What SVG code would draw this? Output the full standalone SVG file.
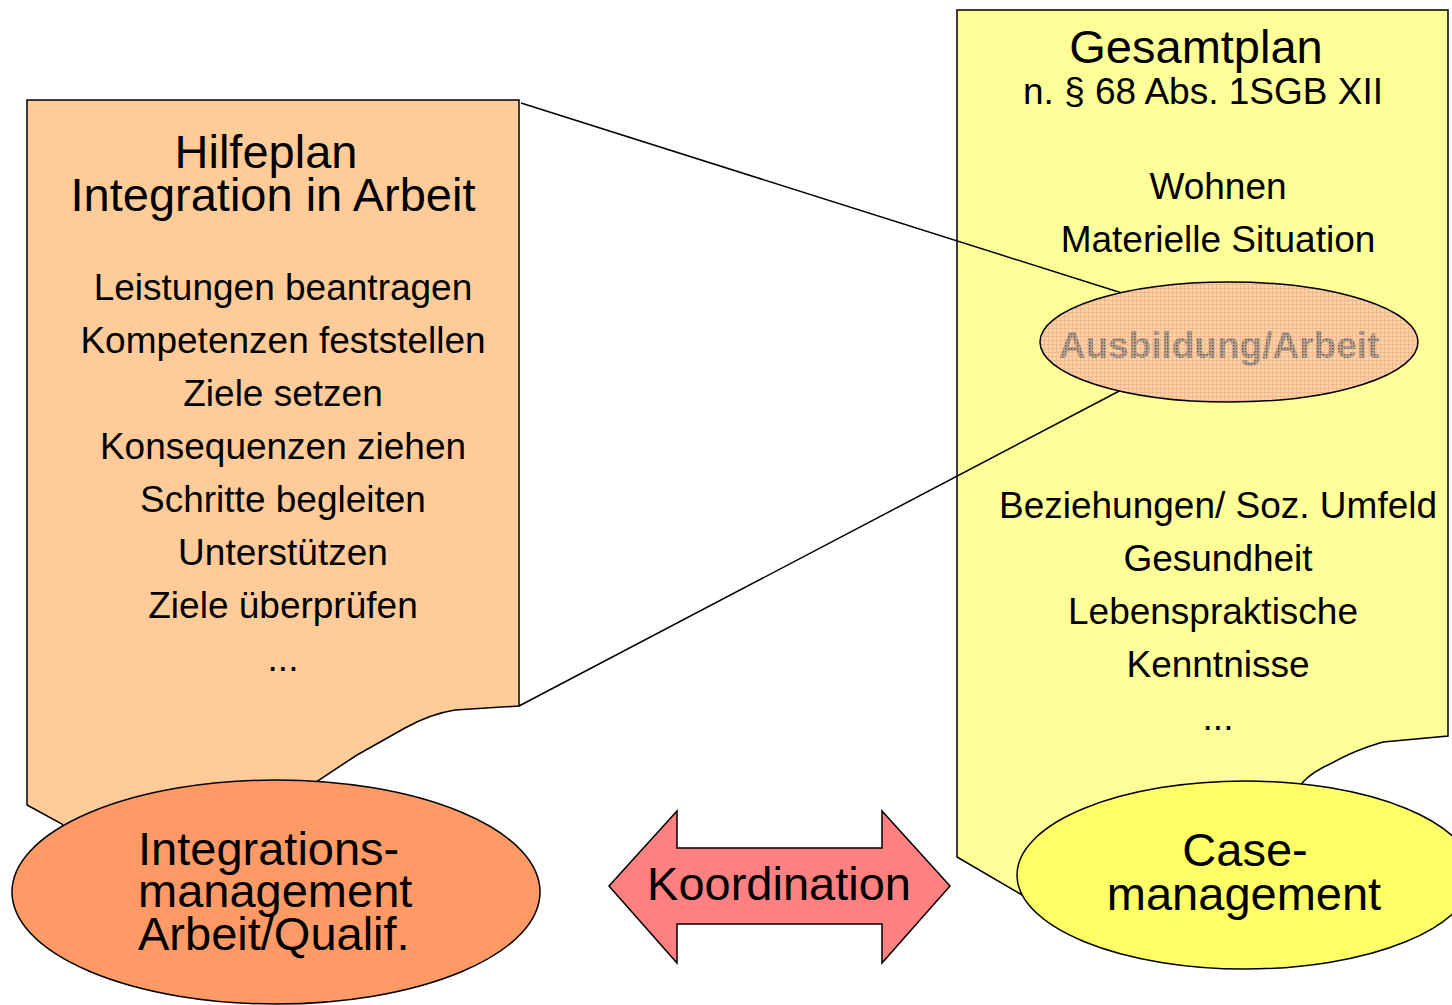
<svg xmlns="http://www.w3.org/2000/svg" width="1452" height="1005" viewBox="0 0 1452 1005">
<style>
text{font-family:"Liberation Sans",Arial,sans-serif;fill:#000;text-anchor:middle}
.shape{stroke:#000;stroke-width:1.5}
.t47{font-size:47px}
.t37{font-size:37px}
.con{stroke:#000;stroke-width:1.5;fill:none}
</style>
<defs>
<pattern id="grid" width="4" height="4" patternUnits="userSpaceOnUse">
<rect width="4" height="4" fill="#FCD49E"/>
<path d="M0,0.5H4M0.5,0V4" stroke="#F2B596" stroke-width="1"/>
</pattern>
<pattern id="dots" width="3" height="3" patternUnits="userSpaceOnUse">
<rect width="3" height="3" fill="#B8A08C"/>
<rect width="1.5" height="1.5" fill="#6E5E54"/>
</pattern>
</defs>
<g id="hilfeplan">
<path class="shape" fill="#FFCC99" d="M27,100 L519,100 L519,706 L455,710 Q430,714 405,728 L357,755 L316,782 L276,850 L80,850 L62,824 L27,805 Z"/>
<text class="t47" x="266" y="168">Hilfeplan</text>
<text class="t47" x="273" y="211">Integration in Arbeit</text>
<text class="t37" x="283" y="300">Leistungen beantragen</text>
<text class="t37" x="283" y="353">Kompetenzen feststellen</text>
<text class="t37" x="283" y="406">Ziele setzen</text>
<text class="t37" x="283" y="459">Konsequenzen ziehen</text>
<text class="t37" x="283" y="512">Schritte begleiten</text>
<text class="t37" x="283" y="565">Unterstützen</text>
<text class="t37" x="283" y="618">Ziele überprüfen</text>
<text class="t37" x="283" y="671">...</text>
</g>
<g id="gesamtplan">
<path class="shape" fill="#FFFF99" d="M957,10 L1448,10 L1448,736 L1383,742 Q1355,750 1332,763 Q1312,772 1303,782 L1290,800 L1040,900 L1022,895 L957,857 Z"/>
<text class="t47" x="1196" y="63">Gesamtplan</text>
<text class="t37" x="1203" y="104">n. § 68 Abs. 1SGB XII</text>
<text class="t37" x="1218" y="199">Wohnen</text>
<text class="t37" x="1218" y="252">Materielle Situation</text>
<text class="t37" x="1218" y="518">Beziehungen/ Soz. Umfeld</text>
<text class="t37" x="1218" y="571">Gesundheit</text>
<text class="t37" x="1213" y="624">Lebenspraktische</text>
<text class="t37" x="1218" y="677">Kenntnisse</text>
<text class="t37" x="1218" y="730">...</text>
</g>
<g id="connectors">
<line class="con" x1="521" y1="103" x2="1125" y2="294"/>
<line class="con" x1="519" y1="706" x2="1125" y2="388"/>
</g>
<g id="ausbildung">
<ellipse class="shape" fill="url(#grid)" cx="1229" cy="342" rx="189" ry="60"/>
<text x="1219" y="358" style="font-size:37px;font-weight:bold;fill:url(#dots)">Ausbildung/Arbeit</text>
</g>
<g id="integrationsmanagement">
<ellipse class="shape" fill="#FF9966" cx="276" cy="892" rx="264" ry="112"/>
<text class="t47" x="138" y="865" style="text-anchor:start">Integrations-</text>
<text class="t47" x="138" y="907" style="text-anchor:start">management</text>
<text class="t47" x="138" y="950" style="text-anchor:start">Arbeit/Qualif.</text>
</g>
<g id="casemanagement">
<ellipse class="shape" fill="#FFFF66" cx="1245" cy="875" rx="228" ry="94"/>
<text class="t47" x="1245" y="866">Case-</text>
<text class="t47" x="1244" y="910">management</text>
</g>
<g id="koordination">
<path class="shape" fill="#FF8080" d="M609,886 L677,811 L677,848 L882,848 L882,811 L950,886 L882,963 L882,924 L677,924 L677,963 Z"/>
<text class="t47" x="779" y="900">Koordination</text>
</g>
</svg>
